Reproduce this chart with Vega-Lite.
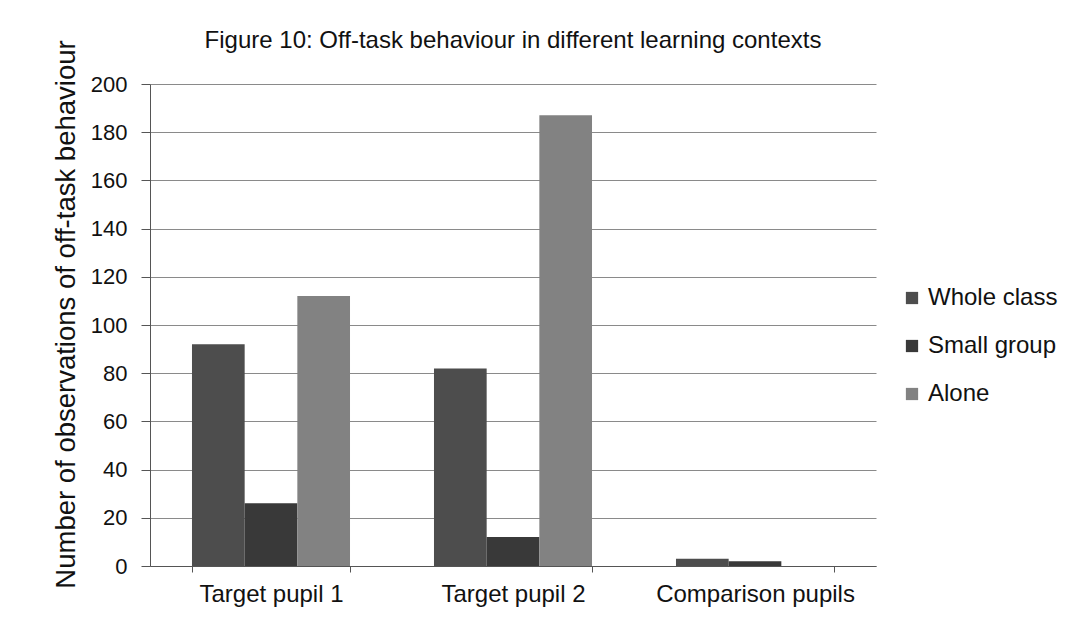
{
  "$schema": "https://vega.github.io/schema/vega-lite/v6.json",
  "width": 726,
  "height": 482,
  "autosize": {"type": "none"},
  "padding": {"left": 150, "top": 84, "right": 212, "bottom": 75},
  "background": "#ffffff",
  "title": {
    "text": "Figure 10: Off-task behaviour in different learning contexts",
    "font": "Liberation Sans",
    "fontSize": 24,
    "fontWeight": "normal",
    "color": "#111111",
    "anchor": "middle",
    "frame": "group",
    "offset": 3,
    "dy": 16
  },
  "data": {
    "values": [
      {"pupil": "Target pupil 1", "context": "Whole class", "count": 92},
      {"pupil": "Target pupil 1", "context": "Small group", "count": 26},
      {"pupil": "Target pupil 1", "context": "Alone", "count": 112},
      {"pupil": "Target pupil 2", "context": "Whole class", "count": 82},
      {"pupil": "Target pupil 2", "context": "Small group", "count": 12},
      {"pupil": "Target pupil 2", "context": "Alone", "count": 187},
      {"pupil": "Comparison pupils", "context": "Whole class", "count": 3},
      {"pupil": "Comparison pupils", "context": "Small group", "count": 2},
      {"pupil": "Comparison pupils", "context": "Alone", "count": 0}
    ]
  },
  "mark": {"type": "bar"},
  "encoding": {
    "x": {
      "field": "pupil",
      "type": "nominal",
      "sort": ["Target pupil 1", "Target pupil 2", "Comparison pupils"],
      "scale": {"paddingInner": 0.347, "paddingOuter": 0.1735},
      "axis": {
        "title": null,
        "labelAngle": 0,
        "labelFont": "Liberation Sans",
        "labelFontSize": 24,
        "labelColor": "#111111",
        "labelPadding": 10,
        "labelLimit": 0,
        "tickBand": "extent",
        "tickSize": 6,
        "tickColor": "#555555",
        "domainColor": "#555555",
        "grid": false
      }
    },
    "xOffset": {
      "field": "context",
      "type": "nominal",
      "sort": ["Whole class", "Small group", "Alone"]
    },
    "y": {
      "field": "count",
      "type": "quantitative",
      "scale": {"domain": [0, 200], "nice": false},
      "axis": {
        "title": "Number of observations of off-task behaviour",
        "titleFont": "Liberation Sans",
        "titleFontSize": 27.5,
        "titleFontWeight": "normal",
        "titleColor": "#111111",
        "titlePadding": 10,
        "titleY": 230,
        "values": [0, 20, 40, 60, 80, 100, 120, 140, 160, 180, 200],
        "labelFont": "Liberation Sans",
        "labelFontSize": 22,
        "labelColor": "#111111",
        "labelPadding": 14,
        "tickSize": 9,
        "tickColor": "#555555",
        "domainColor": "#555555",
        "gridColor": "#8a8a8a",
        "gridWidth": 1
      }
    },
    "color": {
      "field": "context",
      "type": "nominal",
      "sort": ["Whole class", "Small group", "Alone"],
      "scale": {
        "domain": ["Whole class", "Small group", "Alone"],
        "range": ["#4d4d4d", "#393939", "#828282"]
      },
      "legend": {
        "title": null,
        "orient": "none",
        "legendX": 750,
        "legendY": 202,
        "symbolType": "square",
        "symbolSize": 150,
        "symbolStrokeWidth": 0,
        "labelFont": "Liberation Sans",
        "labelFontSize": 24,
        "labelColor": "#111111",
        "labelOffset": 4,
        "rowPadding": 24
      }
    }
  },
  "config": {
    "view": {"stroke": null}
  }
}
